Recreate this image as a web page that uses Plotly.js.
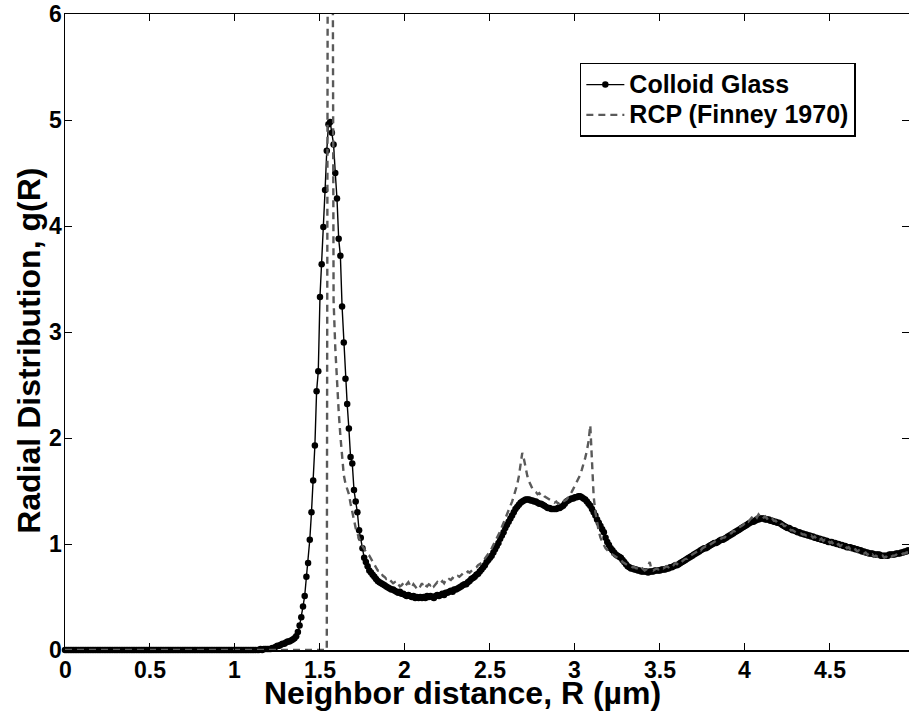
<!DOCTYPE html>
<html>
<head>
<meta charset="utf-8">
<script src="https://cdn.plot.ly/plotly-3.0.1.min.js"></script>
<style>
html,body{margin:0;padding:0;background:#fff;}
#chart{width:909px;height:711px;}
</style>
</head>
<body>
<div id="chart"></div>
<script>
// Neighbor distance grid: R starts at 0 µm, one sample every 0.01 µm
const R_START = 0;
const R_STEP = 0.01;

// g(R) for the colloid glass, R = 0.00 ... 4.96 µm
const gColloidZero = [
0,0,0,0,0,0,0,0,0,0, 0,0,0,0,0,0,0,0,0,0, 0,0,0,0,0,0,0,0,0,0, 0,0,0,0,0,0,0,0,0,0,
0,0,0,0,0,0,0,0,0,0, 0,0,0,0,0,0,0,0,0,0, 0,0,0,0,0,0,0,0,0,0, 0,0,0,0,0,0,0,0,0,0,
0,0,0,0,0,0,0,0,0,0, 0,0,0,0,0,0,0,0,0,0, 0,0,0,0,0,0,0,0,0,0, 0,0,0,0,0,0.01,0,0.01,0.01,0.01
];
const gColloidPeak = [
0.01,0.01,0.02,0.02,0.03,0.04,0.04,0.05,0.06,0.06,
0.07,0.08,0.08,0.09,0.10,0.11,0.13,0.17,0.23,0.31,
0.41,0.51,0.69,0.82,1.04,1.30,1.60,1.93,2.44,2.63,
3.33,3.64,3.99,4.34,4.71,4.96,4.98,4.88,4.77,4.50,
4.26,3.88,3.72,3.24,2.90,2.56,2.32,2.09,1.82,1.76,
1.51,1.40,1.30,1.13,1.06,0.96,0.87,0.83,0.79,0.75
];
const gColloidTail = [
0.73,0.71,0.69,0.67,0.65,0.64,0.63,0.62,0.61,0.60,
0.59,0.58,0.57,0.57,0.56,0.55,0.54,0.55,0.53,0.53,
0.52,0.51,0.52,0.51,0.50,0.51,0.49,0.50,0.49,0.50,
0.49,0.50,0.49,0.51,0.50,0.51,0.50,0.49,0.51,0.52,
0.51,0.52,0.53,0.52,0.54,0.54,0.55,0.56,0.55,0.57,
0.57,0.58,0.59,0.60,0.61,0.62,0.62,0.64,0.65,0.67,
0.68,0.69,0.71,0.72,0.74,0.76,0.78,0.80,0.83,0.85,
0.87,0.89,0.92,0.95,0.98,1.01,1.05,1.08,1.11,1.15,
1.18,1.21,1.24,1.27,1.30,1.33,1.35,1.37,1.39,1.40,
1.41,1.42,1.42,1.42,1.41,1.41,1.40,1.40,1.39,1.38,
1.38,1.37,1.36,1.35,1.34,1.34,1.33,1.33,1.33,1.33,
1.34,1.34,1.35,1.36,1.38,1.40,1.41,1.42,1.43,1.43,
1.44,1.44,1.45,1.45,1.44,1.43,1.42,1.40,1.38,1.36,
1.33,1.30,1.27,1.23,1.20,1.17,1.14,1.11,1.06,1.02,
0.99,0.96,0.94,0.92,0.90,0.89,0.88,0.87,0.85,0.83,
0.81,0.79,0.78,0.77,0.77,0.76,0.76,0.75,0.75,0.74,
0.74,0.74,0.74,0.73,0.74,0.74,0.74,0.75,0.75,0.75,
0.75,0.76,0.76,0.76,0.77,0.77,0.78,0.78,0.79,0.80,
0.80,0.81,0.82,0.83,0.84,0.85,0.86,0.87,0.88,0.89,
0.90,0.91,0.92,0.93,0.94,0.95,0.96,0.96,0.97,0.98,
0.99,1.00,1.01,1.01,1.02,1.03,1.04,1.04,1.05,1.06,
1.07,1.08,1.09,1.10,1.11,1.12,1.13,1.14,1.15,1.16,
1.17,1.18,1.19,1.20,1.21,1.21,1.22,1.23,1.23,1.24,
1.24,1.24,1.23,1.23,1.23,1.22,1.22,1.21,1.21,1.20,
1.20,1.19,1.18,1.17,1.16,1.15,1.15,1.14,1.13,1.13,
1.12,1.11,1.11,1.10,1.10,1.09,1.09,1.08,1.08,1.07,
1.07,1.06,1.06,1.05,1.05,1.04,1.04,1.03,1.03,1.02,
1.02,1.02,1.01,1.01,1.00,1.00,0.99,0.99,0.98,0.98,
0.97,0.97,0.97,0.96,0.96,0.95,0.95,0.94,0.94,0.93,
0.93,0.92,0.92,0.91,0.91,0.91,0.90,0.90,0.90,0.90,
0.89,0.89,0.89,0.89,0.89,0.90,0.90,0.90,0.90,0.91,
0.91,0.91,0.92,0.92,0.93,0.93,0.94
];

// g(R) for random close packing (Finney 1970), R = 0.00 ... 4.96 µm
const gRcpZero = [
0,0,0,0,0,0,0,0,0,0, 0,0,0,0,0,0,0,0,0,0, 0,0,0,0,0,0,0,0,0,0, 0,0,0,0,0,0,0,0,0,0,
0,0,0,0,0,0,0,0,0,0, 0,0,0,0,0,0,0,0,0,0, 0,0,0,0,0,0,0,0,0,0, 0,0,0,0,0,0,0,0,0,0,
0,0,0,0,0,0,0,0,0,0, 0,0,0,0,0,0,0,0,0,0, 0,0,0,0,0,0,0,0,0,0, 0,0,0,0,0,0,0,0,0,0,
0,0,0,0,0,0,0,0,0,0, 0,0,0,0,0,0,0,0,0,0, 0,0,0,0,0,0,0,0,0,0, 0,0,0,0,0
];
const gRcpPeak = [
12,13,10,3.30,2.85,2.50,2.25,2.02,1.85,1.65,1.57,1.52,1.47,1.38,1.30,
1.22,1.15,1.10,1.05,1.01,0.98,0.95,0.92,0.90,0.89
];
const gRcpTail = [
0.86,0.83,0.80,0.78,0.75,0.75,0.72,0.70,0.69,0.67,
0.68,0.66,0.64,0.63,0.64,0.61,0.62,0.60,0.61,0.63,
0.60,0.62,0.64,0.61,0.59,0.62,0.60,0.58,0.61,0.60,
0.63,0.59,0.61,0.60,0.62,0.61,0.63,0.60,0.62,0.64,
0.62,0.63,0.65,0.63,0.66,0.65,0.67,0.66,0.68,0.67,
0.69,0.70,0.69,0.71,0.72,0.71,0.73,0.74,0.73,0.75,
0.76,0.77,0.78,0.80,0.81,0.82,0.84,0.86,0.88,0.91,
0.93,0.96,0.99,1.02,1.05,1.09,1.12,1.16,1.20,1.24,
1.28,1.32,1.35,1.40,1.45,1.50,1.56,1.64,1.74,1.86,
1.80,1.70,1.64,1.59,1.55,1.52,1.50,1.49,1.47,1.48,
1.46,1.47,1.45,1.44,1.43,1.42,1.41,1.40,1.39,1.40,
1.38,1.39,1.38,1.40,1.41,1.42,1.44,1.46,1.49,1.52,
1.55,1.58,1.61,1.65,1.70,1.75,1.81,1.88,1.97,2.12,
1.75,1.45,1.30,1.20,1.12,1.06,1.02,0.99,0.96,0.94,
0.92,0.91,0.90,0.89,0.88,0.87,0.86,0.85,0.83,0.82,
0.81,0.80,0.79,0.79,0.78,0.78,0.77,0.77,0.76,0.78,
0.76,0.75,0.76,0.79,0.83,0.76,0.75,0.76,0.77,0.76,
0.77,0.78,0.77,0.78,0.79,0.78,0.80,0.81,0.80,0.82,
0.81,0.83,0.82,0.84,0.85,0.86,0.86,0.88,0.89,0.90,
0.91,0.92,0.93,0.95,0.94,0.96,0.97,0.98,0.97,0.99,
1.00,1.01,1.02,1.03,1.03,1.04,1.05,1.06,1.06,1.08,
1.08,1.10,1.10,1.12,1.12,1.14,1.15,1.16,1.17,1.18,
1.20,1.22,1.21,1.23,1.25,1.24,1.27,1.25,1.28,1.26,
1.27,1.25,1.26,1.24,1.25,1.23,1.24,1.22,1.22,1.20,
1.21,1.19,1.19,1.17,1.17,1.15,1.15,1.13,1.13,1.12,
1.11,1.11,1.10,1.10,1.09,1.09,1.08,1.08,1.07,1.08,
1.06,1.07,1.05,1.06,1.04,1.05,1.03,1.04,1.02,1.03,
1.01,1.02,1.00,1.01,0.99,1.00,0.98,0.99,0.97,0.98,
0.96,0.97,0.95,0.96,0.94,0.95,0.93,0.94,0.92,0.92,
0.91,0.92,0.90,0.91,0.89,0.90,0.88,0.89,0.88,0.89,
0.88,0.89,0.87,0.88,0.87,0.89,0.88,0.89,0.89,0.90,
0.89,0.90,0.90,0.91,0.91,0.92,0.92
];

const seriesNames = ["Colloid Glass", "RCP (Finney 1970)"];
const xTickVals = [0, 0.5, 1, 1.5, 2, 2.5, 3, 3.5, 4, 4.5];
const xTickText = ["0", "0.5", "1", "1.5", "2", "2.5", "3", "3.5", "4", "4.5"];
const yTickVals = [0, 1, 2, 3, 4, 5, 6];
const yTickText = ["0", "1", "2", "3", "4", "5", "6"];
const xTitle = "Neighbor distance, R (µm)";
const yTitle = "Radial Distribution, g(R)";

const gColloid = gColloidZero.concat(gColloidPeak, gColloidTail);
const gRcp = gRcpZero.concat(gRcpPeak, gRcpTail);
const bold = s => "<b>" + s + "</b>";
const legendName = s => '<b><span style="font-size:25px">' + s + '</span></b>';

const FONT = "Liberation Sans, Arial, Helvetica, sans-serif";
const TICKFONT = {family: FONT, size: 23, color: "#000000", weight: 700};
const TITLEFONT = {family: FONT, size: 32, color: "#000000", weight: 700};

const traces = [
  {
    type: "scatter", mode: "lines+markers", name: legendName(seriesNames[0]),
    x0: R_START, dx: R_STEP, y: gColloid,
    line: {color: "#000000", width: 1.4},
    marker: {color: "#000000", size: 6.5, symbol: "circle"},
    cliponaxis: false
  },
  {
    type: "scatter", mode: "lines", name: legendName(seriesNames[1]),
    x0: R_START, dx: R_STEP, y: gRcp,
    line: {color: "#5a5a5a", width: 2.4, dash: "7px,5px"}
  }
];

const axisCommon = {
  showgrid: false, zeroline: false,
  showline: true, linecolor: "#000000", linewidth: 1.5,
  mirror: "ticks", ticks: "inside", ticklen: 7, tickwidth: 1, tickcolor: "#000000",
  showticklabels: false, automargin: false
};

// bold tick labels drawn as text at the tick positions
const tickAnnotations = [];
xTickVals.forEach((v, i) => tickAnnotations.push({
  text: bold(xTickText[i]), xref: "x", yref: "paper", x: v, y: -0.031,
  xanchor: "center", yanchor: "middle", showarrow: false, font: TICKFONT
}));
yTickVals.forEach((v, i) => tickAnnotations.push({
  text: bold(yTickText[i]), xref: "paper", yref: "y", x: -0.001, y: v,
  xanchor: "right", yanchor: "middle", showarrow: false, font: TICKFONT
}));

const layout = {
  width: 909, height: 711,
  paper_bgcolor: "#ffffff", plot_bgcolor: "#ffffff",
  margin: {l: 65, r: 0, t: 14, b: 61},
  showlegend: true,
  legend: {
    x: 0.61, y: 0.923, xanchor: "left", yanchor: "top",
    bgcolor: "#ffffff", bordercolor: "#000000", borderwidth: 1.5,
    font: {family: FONT, size: 21, color: "#000000", weight: 700},
    itemwidth: 38, tracegroupgap: 0
  },
  xaxis: Object.assign({}, axisCommon, {range: [0, 4.965]}),
  yaxis: Object.assign({}, axisCommon, {range: [0, 6]}),
  annotations: tickAnnotations.concat([
    {
      text: bold(xTitle), xref: "paper", yref: "paper", x: 0.4704, y: -0.067,
      xanchor: "center", yanchor: "middle", showarrow: false, font: TITLEFONT
    },
    {
      text: bold(yTitle), xref: "paper", yref: "paper", x: -0.043, y: 0.47,
      xanchor: "center", yanchor: "middle", showarrow: false, textangle: -90, font: TITLEFONT
    }
  ])
};

Plotly.newPlot("chart", traces, layout, {staticPlot: true, displayModeBar: false});
</script>
</body>
</html>
